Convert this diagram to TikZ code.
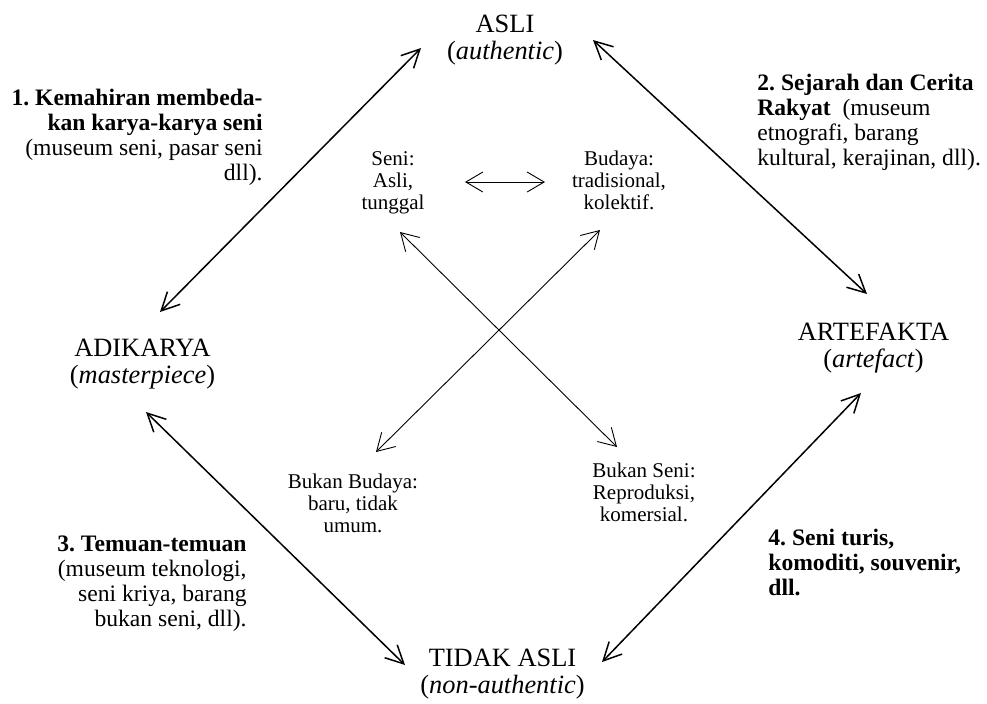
\documentclass[tikz,border=0pt]{standalone}
\usepackage{fontspec}
\setmainfont{Liberation Serif}
\frenchspacing
\usetikzlibrary{arrows.meta, positioning}
\tikzstyle{corner} = [align=center, inner sep=0pt, anchor=north, font=\fontsize{13.2}{13.5}\selectfont]
\tikzstyle{facet} = [align=center, inner sep=0pt, anchor=north, font=\fontsize{10.5}{11}\selectfont]
\tikzstyle{note} = [inner sep=0pt, font=\fontsize{11.8}{12.5}\selectfont]
\tikzstyle{bigarrow} = [line width=0.75pt, {Straight Barb[length=9pt,width=9pt]}-{Straight Barb[length=9pt,width=9pt]}]
\tikzstyle{smallarrow} = [line width=0.45pt, {Straight Barb[length=8.5pt,width=10pt]}-{Straight Barb[length=8.5pt,width=10pt]}]

\begin{document}
\begin{tikzpicture}[x=0.5pt, y=-0.5pt]
\useasboundingbox (0,0) rectangle (987,703);

% Corners of the square
\node (asli) [corner] at (505,14.4) {ASLI\\(\textit{authentic})};
\node (adikarya) [corner] at (142.5,338.4) {ADIKARYA\\(\textit{masterpiece})};
\node (artefakta) [corner] at (873.5,322.4) {ARTEFAKTA\\(\textit{artefact})};
\node (tidakasli) [corner] at (502.5,648.4) {TIDAK ASLI\\(\textit{non-authentic})};

% Inner facets
\node (seni) [facet] at (393,150.7) {Seni:\\Asli,\\tunggal};
\node (budaya) [facet] at (619,150.7) {Budaya:\\tradisional,\\kolektif.};
\node (bukanbudaya) [facet] at (353,473.7) {Bukan Budaya:\\baru, tidak\\umum.};
\node (bukanseni) [facet] at (644,462.7) {Bukan Seni:\\Reproduksi,\\komersial.};

% Side notes
\node (note1) [note, anchor=north east, align=right] at (263,88.8) {\textbf{1. Kemahiran membeda-}\\\textbf{kan karya-karya seni}\\(museum seni, pasar seni\\dll).};
\node (note2) [note, anchor=north west, align=left] at (757,73.8) {\textbf{2. Sejarah dan Cerita}\\\textbf{Rakyat}\ \ (museum\\etnografi, barang\\kultural, kerajinan, dll).};
\node (note3) [note, anchor=north east, align=right] at (247,535.8) {\textbf{3. Temuan-temuan}\\(museum teknologi,\\seni kriya, barang\\bukan seni, dll).};
\node (note4) [note, anchor=north west, align=left, font=\fontsize{11.8}{12.5}\selectfont\bfseries] at (768,528.8) {4. Seni turis,\\komoditi, souvenir,\\dll.};

% Arrow ends
\coordinate (adikarya-up) at (160,312);
\coordinate (asli-left) at (421,48);
\coordinate (asli-right) at (593,40);
\coordinate (artefakta-up) at (867,294);
\coordinate (adikarya-down) at (146,412);
\coordinate (tidakasli-left) at (405,665);
\coordinate (tidakasli-right) at (602,662);
\coordinate (artefakta-down) at (861,393);
\coordinate (seni-right) at (465,182);
\coordinate (budaya-left) at (545,182);
\coordinate (seni-down) at (400,232);
\coordinate (bukanseni-up) at (617,447);
\coordinate (bukanbudaya-up) at (376,452);
\coordinate (budaya-down) at (600,230);

% Outer flows
\draw [bigarrow] (adikarya-up) -- (asli-left);
\draw [bigarrow] (asli-right) -- (artefakta-up);
\draw [bigarrow] (adikarya-down) -- (tidakasli-left);
\draw [bigarrow] (tidakasli-right) -- (artefakta-down);

% Inner flows
\draw [smallarrow] (seni-right) -- (budaya-left);
\draw [smallarrow] (seni-down) -- (bukanseni-up);
\draw [smallarrow] (bukanbudaya-up) -- (budaya-down);

\end{tikzpicture}
\end{document}
